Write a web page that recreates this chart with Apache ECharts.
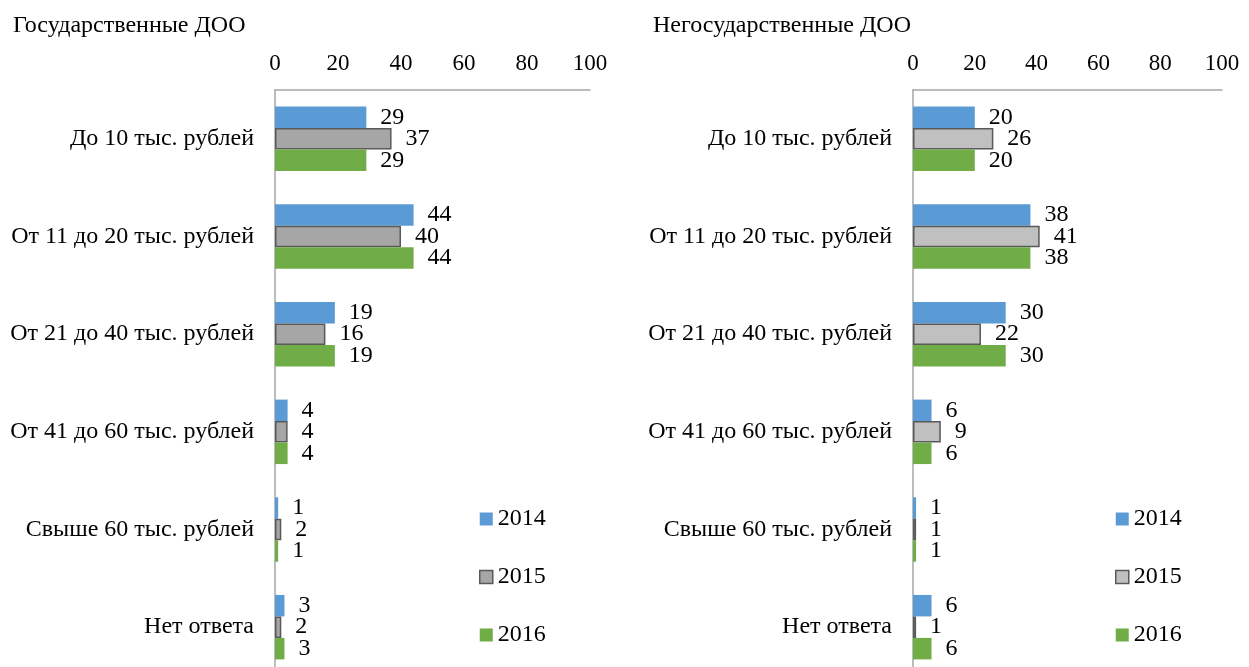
<!DOCTYPE html>
<html>
<head>
<meta charset="utf-8">
<script src="https://cdn.jsdelivr.net/npm/echarts@6/dist/echarts.min.js"></script>
<style>
  html, body { margin: 0; padding: 0; background: #fff; overflow: hidden; }
  #chart { width: 1249px; height: 690px; }
</style>
</head>
<body>
<div id="chart"></div>
<script>
  var categories = ['До 10 тыс. рублей', 'От 11 до 20 тыс. рублей', 'От 21 до 40 тыс. рублей',
    'От 41 до 60 тыс. рублей', 'Свыше 60 тыс. рублей', 'Нет ответа'];
  var years = ['2014', '2015', '2016'];

  // Государственные ДОО
  var state2014 = [29, 44, 19, 4, 1, 3];
  var state2015 = [37, 40, 16, 4, 2, 2];
  var state2016 = [29, 44, 19, 4, 1, 3];

  // Негосударственные ДОО
  var private2014 = [20, 38, 30, 6, 1, 6];
  var private2015 = [26, 41, 22, 9, 1, 1];
  var private2016 = [20, 38, 30, 6, 1, 6];

  var axisTicks = [0, 20, 40, 60, 80, 100];

  var font = 'Liberation Serif';
  var fs = 24;
  var lineColor = '#a6a6a6';

  function xAxis(idx) {
    return {
      gridIndex: idx,
      type: 'value',
      position: 'top',
      min: axisTicks[0],
      max: axisTicks[axisTicks.length - 1],
      interval: 20,
      axisLine: { show: true, lineStyle: { color: lineColor, width: 1.5 } },
      axisTick: { show: false },
      splitLine: { show: false },
      axisLabel: { color: '#000', fontFamily: font, fontSize: 23, margin: 15 }
    };
  }

  function yAxis(idx) {
    return {
      gridIndex: idx,
      type: 'category',
      inverse: true,
      data: categories,
      axisLine: { show: true, lineStyle: { color: lineColor, width: 1.5 } },
      axisTick: { show: false },
      axisLabel: { color: '#000', fontFamily: font, fontSize: fs, margin: 21, lineHeight: 28, padding: [6, 0, 0, 0] }
    };
  }

  function bar(name, data, idx, style) {
    return {
      name: name,
      type: 'bar',
      xAxisIndex: idx,
      yAxisIndex: idx,
      data: data,
      barGap: '0%',
      barCategoryGap: '34%',
      itemStyle: style,
      label: {
        show: true,
        position: 'right',
        distance: 14,
        color: '#000',
        fontFamily: font,
        fontSize: fs
      }
    };
  }

  var blue = { color: '#5b9bd5' };
  var green = { color: '#70ad47' };
  var grayL = { color: '#a6a6a6', borderColor: '#595959', borderWidth: 1.5 };
  var grayR = { color: '#c0c0c0', borderColor: '#595959', borderWidth: 1.5 };

  function legend(left, gray) {
    return {
      orient: 'vertical',
      left: left,
      top: 507,
      padding: 0,
      itemWidth: 13,
      itemHeight: 13,
      itemGap: 34,
      icon: 'rect',
      textStyle: { color: '#000', fontFamily: font, fontSize: fs },
      data: [
        { name: '2014', itemStyle: blue },
        { name: '2015', itemStyle: gray },
        { name: '2016', itemStyle: green }
      ]
    };
  }

  var myChart = echarts.init(document.getElementById('chart'));
  var option = {
    animation: false,
    title: [
      { text: 'Государственные ДОО', left: 8, top: 9,
        textStyle: { color: '#000', fontFamily: font, fontSize: fs, fontWeight: 'normal' } },
      { text: 'Негосударственные ДОО', left: 648, top: 9,
        textStyle: { color: '#000', fontFamily: font, fontSize: fs, fontWeight: 'normal' } }
    ],
    legend: [legend(479, grayL), legend(1115, grayR)],
    grid: [
      { left: 275, top: 90, width: 315, height: 586 },
      { left: 913, top: 90, width: 309, height: 586 }
    ],
    xAxis: [xAxis(0), xAxis(1)],
    yAxis: [yAxis(0), yAxis(1)],
    series: [
      bar(years[0], state2014, 0, blue),
      bar(years[1], state2015, 0, grayL),
      bar(years[2], state2016, 0, green),
      bar(years[0], private2014, 1, blue),
      bar(years[1], private2015, 1, grayR),
      bar(years[2], private2016, 1, green)
    ]
  };
  myChart.setOption(option);
</script>
</body>
</html>
